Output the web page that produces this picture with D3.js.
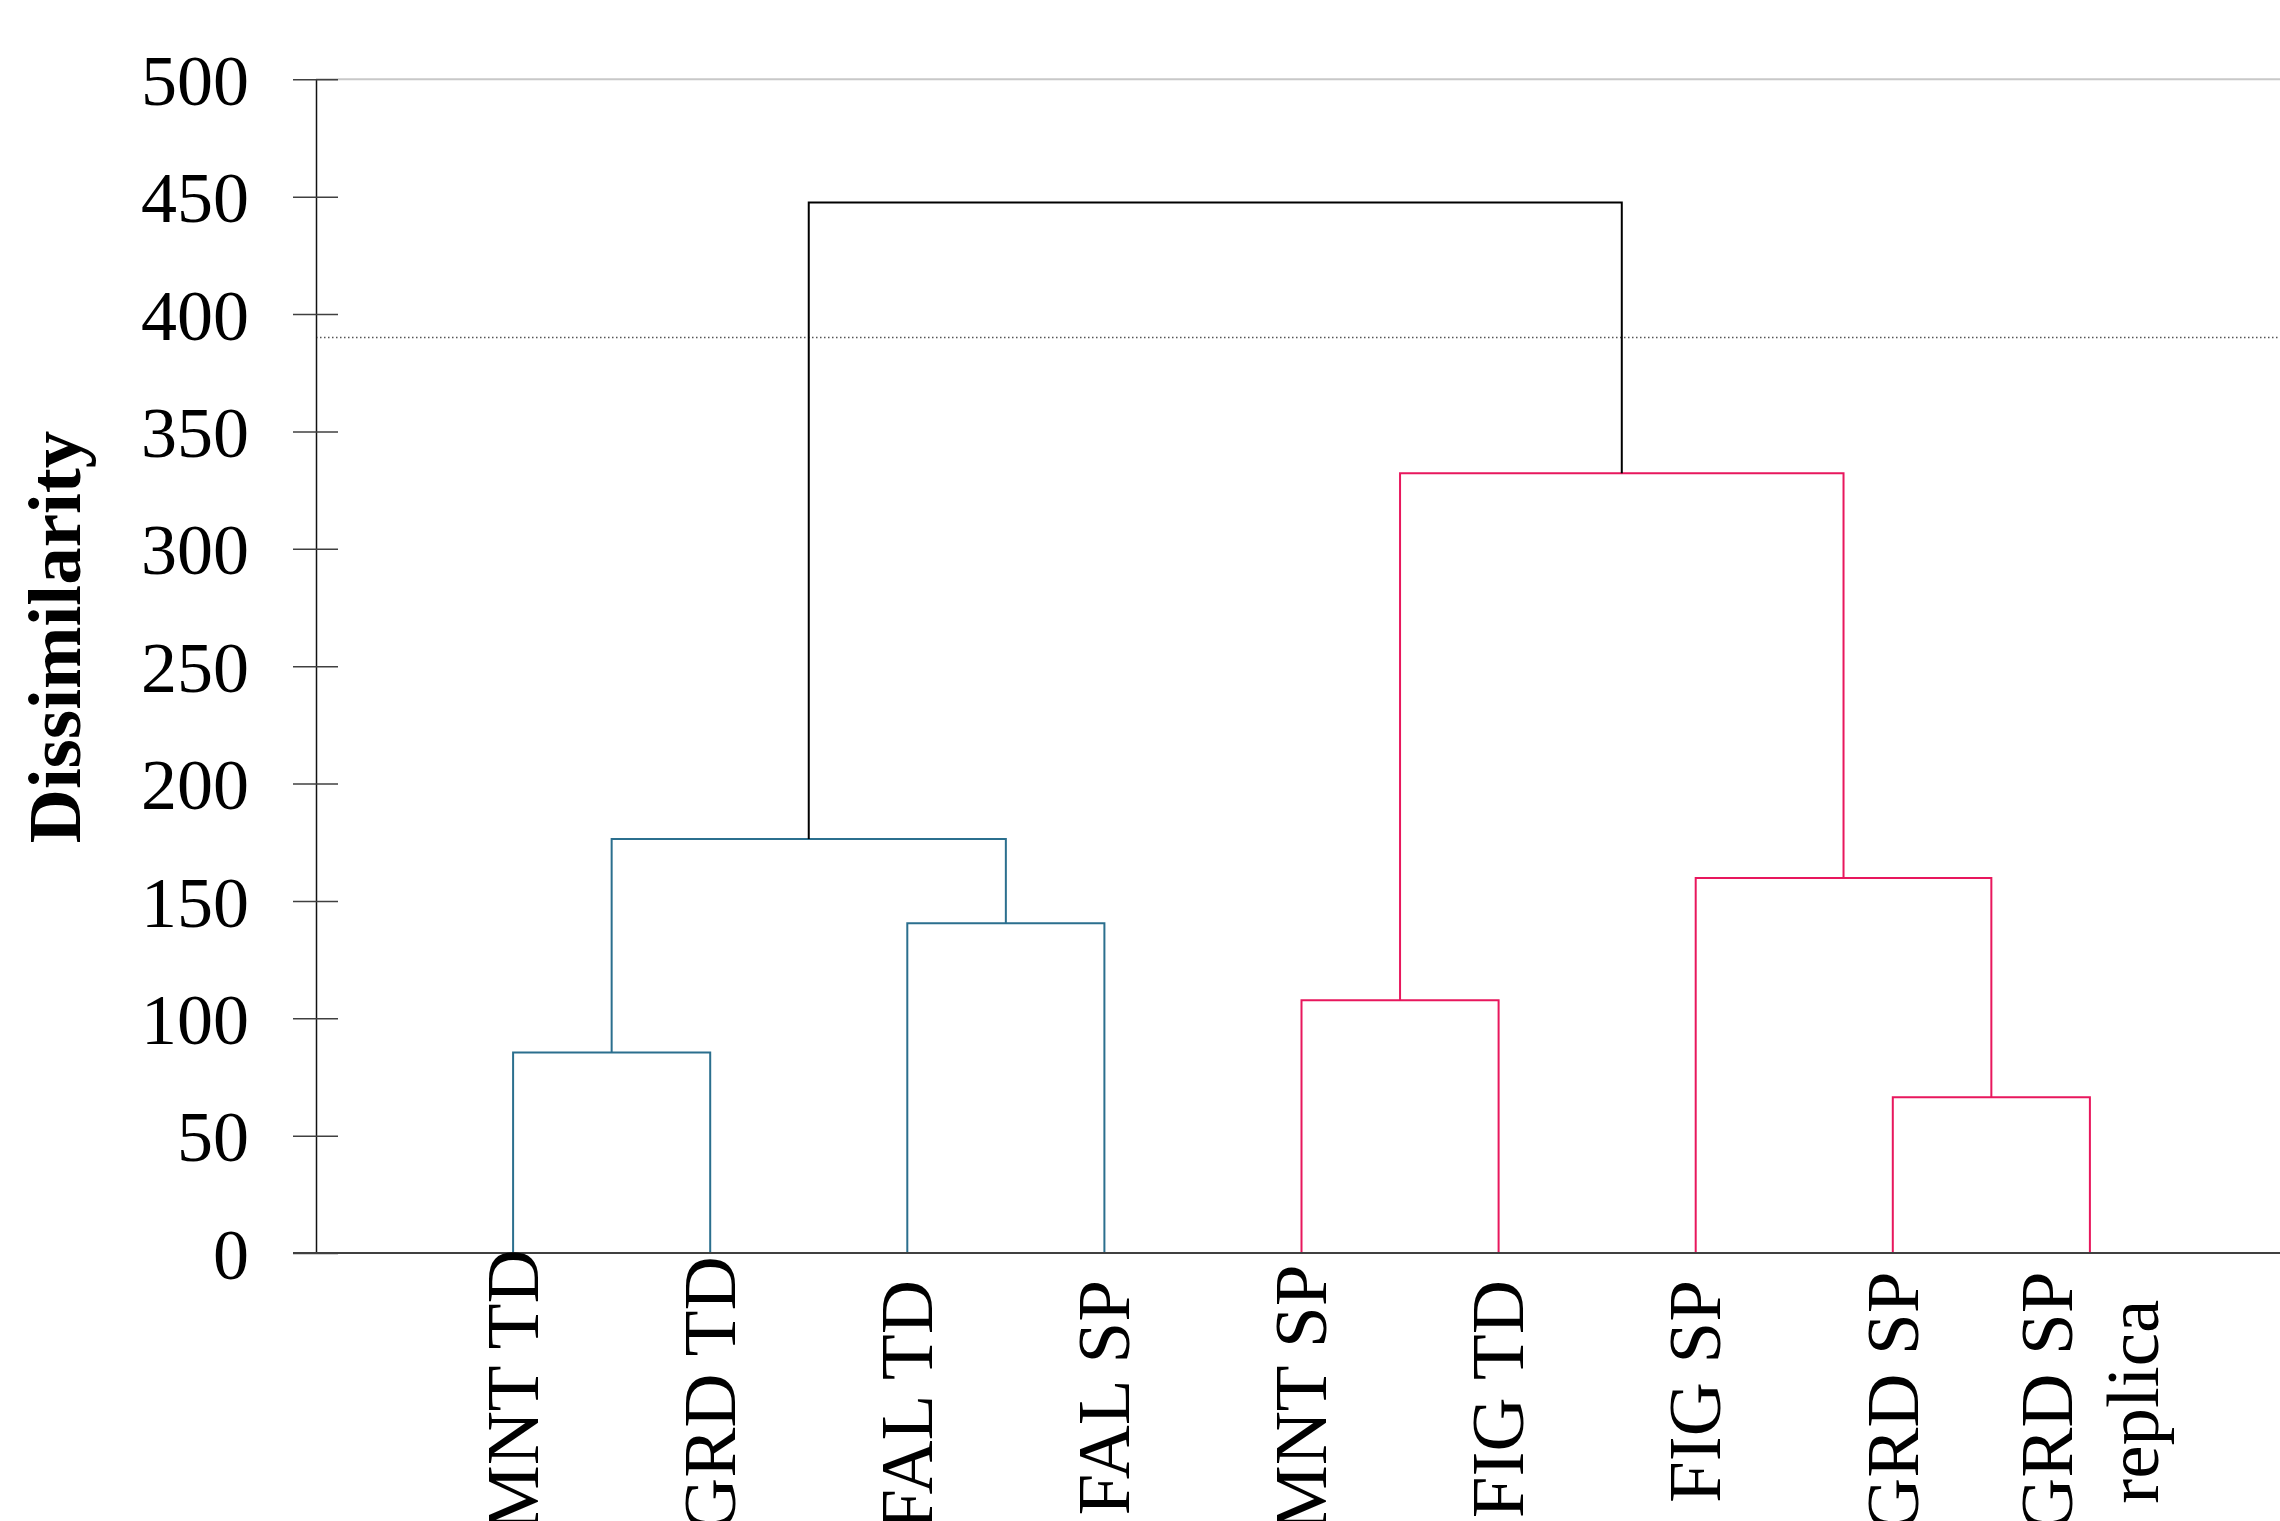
<!DOCTYPE html>
<html>
<head>
<meta charset="utf-8">
<script src="https://cdn.jsdelivr.net/npm/d3@7"></script>
<style>
  body { margin: 0; background: #fff; }
  text { font-family: "Liberation Serif", "Times New Roman", serif; }
</style>
</head>
<body>
<div id="chart"></div>
<script>
// leaves, left to right
const leaves = ["MNT TD", "GRD TD", "FAL TD", "FAL SP", "MNT SP", "FIG TD", "FIG SP", "GRD SP", "GRD SP\nreplica"];

// merges: node ids 0-8 are leaves, 9+ are merges in this order
const mergeA = [0, 2, 9, 4, 7, 6, 12, 11];
const mergeB = [1, 3, 10, 5, 8, 13, 14, 15];
const mergeHeight = [85.4, 140.5, 176.4, 107.7, 66.3, 159.7, 332.2, 447.5];
const mergeGroup = [0, 0, 0, 1, 1, 1, 1, 2];
const groupColors = ["#2b6f8e", "#e8175d", "#000000"];

const yTicks = [0, 50, 100, 150, 200, 250, 300, 350, 400, 450, 500];
const cutLevel = 390;

const width = 2280, height = 1521;

const svg = d3.select("#chart")
  .append("svg")
  .attr("width", width)
  .attr("height", height);

const x = d3.scalePoint().domain(d3.range(leaves.length)).range([316, 2287]).padding(1);
const y = d3.scaleLinear().domain([0, 500]).range([1253, 79.3]);

// node positions
const nodeX = leaves.map((d, i) => x(i));
const nodeH = leaves.map(() => 0);
mergeA.forEach((a, k) => {
  nodeX.push((nodeX[a] + nodeX[mergeB[k]]) / 2);
  nodeH.push(mergeHeight[k]);
});

// top gridline at 500
svg.append("line")
  .attr("x1", 316).attr("x2", width)
  .attr("y1", y(500)).attr("y2", y(500))
  .attr("stroke", "#c8c8c8").attr("stroke-width", 2);

// cut line
svg.append("line")
  .attr("x1", 316).attr("x2", width)
  .attr("y1", y(cutLevel)).attr("y2", y(cutLevel))
  .attr("stroke", "#555").attr("stroke-width", 1.3)
  .attr("stroke-dasharray", "1.5,2.5");

// branches
svg.append("g")
  .attr("fill", "none")
  .attr("stroke-width", 2)
  .selectAll("path")
  .data(mergeA.map((a, k) => ({ a, b: mergeB[k], h: mergeHeight[k], g: mergeGroup[k] })))
  .join("path")
  .attr("stroke", d => groupColors[d.g])
  .attr("d", d => {
    const p = d3.path();
    p.moveTo(nodeX[d.a], y(nodeH[d.a]));
    p.lineTo(nodeX[d.a], y(d.h));
    p.lineTo(nodeX[d.b], y(d.h));
    p.lineTo(nodeX[d.b], y(nodeH[d.b]));
    return p;
  });

// y axis
const yAxis = svg.append("g")
  .attr("transform", "translate(316,0)")
  .call(d3.axisLeft(y).tickValues(yTicks).tickSize(0).tickPadding(67));
yAxis.select(".domain").attr("stroke", "#111").attr("stroke-width", 1.5);
yAxis.selectAll(".tick line")
  .attr("x1", -23).attr("x2", 22)
  .attr("stroke", "#404040").attr("stroke-width", 1.5);
yAxis.selectAll(".tick text")
  .attr("font-family", "Liberation Serif")
  .attr("font-size", 72)
  .attr("fill", "#000")
  .attr("dy", "0.35em");

// x axis line
svg.append("line")
  .attr("x1", 293).attr("x2", width)
  .attr("y1", y(0)).attr("y2", y(0))
  .attr("stroke", "#404040").attr("stroke-width", 2);

// y title
svg.append("text")
  .attr("transform", "translate(80,637) rotate(-90)")
  .attr("text-anchor", "middle")
  .attr("font-size", 75)
  .attr("font-weight", "bold")
  .text("Dissimilarity");

// leaf labels, rotated; pushed up when they would run off the bottom
const labelSize = 75, lineGap = 86;
leaves.forEach((name, i) => {
  const lines = name.split("\n");
  const g = svg.append("g").attr("transform", `translate(${x(i)},0) rotate(-90)`);
  const t = g.append("text")
    .attr("text-anchor", "middle")
    .attr("font-size", labelSize);
  const spans = lines.map((ln, j) => t.append("tspan")
    .attr("y", 0.33 * labelSize + (j - (lines.length - 1) / 2) * lineGap)
    .text(ln));
  const maxL = d3.max(spans, s => s.node().getComputedTextLength());
  const cy = Math.min(1280, 1532 - maxL) + maxL / 2;
  spans.forEach(s => s.attr("x", -cy));
});
</script>
</body>
</html>
